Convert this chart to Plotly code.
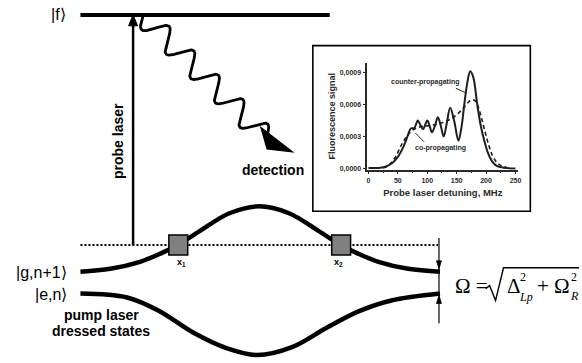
import numpy as np
import plotly.graph_objects as go

W, H = 582, 363

# ---------------- inset data (MHz, fluorescence signal) ----------------
counter_x = [0, 20, 30, 40, 50, 60, 67, 72, 78, 84, 89, 93, 100, 104, 108, 113, 118, 123, 128,
             133, 139, 146, 153, 158, 163, 168, 173, 178, 185, 191, 197, 203, 210, 218, 230, 250]
counter_y = [0.05, 0.08, 0.2, 0.5, 1.1, 2.1, 3.1, 3.75, 3.8, 4.5, 4.0, 3.7, 4.5, 4.0, 3.4, 4.0, 4.8, 4.0, 3.0,
             4.2, 5.7, 4.4, 2.6, 3.8, 6.0, 8.0, 9.1, 8.6, 6.0, 4.0, 2.6, 1.5, 0.7, 0.25, 0.08, 0.02]
co_x = [25, 34, 45, 56, 65, 75, 87, 100, 112, 125, 135, 147, 157, 165, 174, 180, 185, 191, 197, 204, 211, 218, 225, 235]
co_y = [0.05, 0.3, 1.0, 2.2, 3.0, 3.6, 3.9, 4.0, 4.1, 4.3, 4.5, 4.9, 5.4, 5.9, 6.4, 6.4, 6.0, 5.0, 3.7, 2.3, 1.2, 0.6, 0.3, 0.1]
x_ticks = [0, 50, 100, 150, 200, 250]
y_ticks = [0, 0.0003, 0.0006, 0.0009]
y_ticktext = ["0,0000", "0,0003", "0,0006", "0,0009"]

# ---------------- diagram geometry (pixel space) ----------------
upper_x = [80, 110, 140, 160, 178, 200, 230, 260, 290, 320, 342, 360, 380, 410, 442]
upper_y = [274, 271, 264, 256, 247, 233, 215, 208, 215, 233, 247, 256, 264, 271, 274]
lower_x = [80, 127, 160, 193, 227, 258, 293, 327, 360, 393, 442]
lower_y = [296, 300, 314, 335, 351, 358, 350, 331, 314, 303, 296]

fig = go.Figure()

# dressed-state curves
fig.add_trace(go.Scatter(x=upper_x, y=upper_y, mode="lines", line=dict(color="black", width=4.5, shape="spline"),
                         xaxis="x", yaxis="y", hoverinfo="skip"))
fig.add_trace(go.Scatter(x=lower_x, y=lower_y, mode="lines", line=dict(color="black", width=4.5, shape="spline"),
                         xaxis="x", yaxis="y", hoverinfo="skip"))

# wavy fluorescence line (decorative glyph)
sx, sy, ex, ey = 143, 16, 267, 139
t = np.linspace(0, 1, 600)
L = np.hypot(ex - sx, ey - sy)
px, py = -(ey - sy) / L, (ex - sx) / L
amp = 11 * np.sin(2 * np.pi * 5 * t)
wx = sx + t * (ex - sx) + amp * px
wy = sy + t * (ey - sy) + amp * py
fig.add_trace(go.Scatter(x=wx, y=wy, mode="lines", line=dict(color="black", width=2.8),
                         xaxis="x", yaxis="y", hoverinfo="skip"))

# inset curves
fig.add_trace(go.Scatter(x=counter_x, y=[v * 1e-4 for v in counter_y], mode="lines",
                         line=dict(color="#1e1e1e", width=2, shape="spline"), xaxis="x2", yaxis="y2", hoverinfo="skip"))
fig.add_trace(go.Scatter(x=co_x, y=[v * 1e-4 for v in co_y], mode="lines",
                         line=dict(color="#1e1e1e", width=1.6, dash="4px,3px", shape="spline"), xaxis="x2", yaxis="y2", hoverinfo="skip"))

shapes = []
# inset frame
shapes.append(dict(type="rect", xref="x", yref="y", x0=314, y0=46, x1=533, y1=213,
                   line=dict(color="black", width=1.6), fillcolor="white", layer="below"))
# |f> level
shapes.append(dict(type="line", xref="x", yref="y", x0=80, y0=15, x1=331, y1=15, line=dict(color="black", width=4)))
# probe laser arrow
shapes.append(dict(type="line", xref="x", yref="y", x0=133, y0=247, x1=133, y1=22, line=dict(color="black", width=2.5)))
shapes.append(dict(type="path", xref="x", yref="y", path="M 128.5 26 L 133 15 L 137.5 26 Z",
                   fillcolor="black", line=dict(color="black", width=1)))
# detection arrowhead
shapes.append(dict(type="path", xref="x", yref="y", path="M 262 129 L 293 153 L 268 150 Z",
                   fillcolor="black", line=dict(color="black", width=1.5)))
# dotted virtual level
shapes.append(dict(type="line", xref="x", yref="y", x0=80, y0=247, x1=440, y1=247,
                   line=dict(color="black", width=2, dash="2px,2px")))
# crossing boxes
for cx in (178.5, 342.5):
    shapes.append(dict(type="rect", xref="x", yref="y", x0=cx - 9.5, y0=237, x1=cx + 9.5, y1=257,
                       fillcolor="#808080", line=dict(color="black", width=1.5), layer="above"))
# splitting marker
shapes.append(dict(type="line", xref="x", yref="y", x0=441, y0=240, x1=441, y1=326, line=dict(color="black", width=1.2)))
shapes.append(dict(type="path", xref="x", yref="y", path="M 438.5 263 L 441 271 L 443.5 263 Z",
                   fillcolor="black", line=dict(color="black", width=0.8)))
shapes.append(dict(type="path", xref="x", yref="y", path="M 438.5 306 L 441 298 L 443.5 306 Z",
                   fillcolor="black", line=dict(color="black", width=0.8)))
# radical sign of the formula
shapes.append(dict(type="path", xref="x", yref="y", path="M 488 291 L 492 288 L 498 303 L 506 270 L 583 270",
                   line=dict(color="black", width=1.4)))
# inset pointer lines
shapes.append(dict(type="line", xref="x", yref="y", x0=458, y0=89, x1=469, y1=94,
                   line=dict(color="#2a2a2a", width=1), layer="above"))
shapes.append(dict(type="line", xref="x", yref="y", x0=426, y0=143, x1=417, y1=134,
                   line=dict(color="#2a2a2a", width=1), layer="above"))
fig.update_layout(shapes=shapes)

SANS = "Liberation Sans, Arial, sans-serif"
SERIF = "Liberation Serif, Times New Roman, serif"
ann = []
def txt(x, y, s, size, bold=False, xanchor="center", angle=0, family=SANS, color="black", italic=False):
    ann.append(dict(x=x, y=y, xref="x", yref="y", text=s, showarrow=False, xanchor=xanchor, yanchor="middle",
                    textangle=angle, font=dict(family=family, size=size, color=color,
                                               weight="bold" if bold else "normal",
                                               style="italic" if italic else "normal")))

txt(67, 15, "|f\u27e9", 16, xanchor="right")
txt(68, 275, "|g,n+1\u27e9", 16, xanchor="right")
txt(68, 297, "|e,n\u27e9", 16, xanchor="right")
txt(101, 318, "pump laser", 14, bold=True)
txt(101, 334, "dressed states", 14, bold=True)
txt(118, 142, "probe laser", 14, bold=True, angle=-90)
txt(274, 171, "detection", 14, bold=True)
txt(182, 265, "x<sub>1</sub>", 9, bold=True)
txt(340, 265, "x<sub>2</sub>", 9, bold=True)
# formula
txt(455, 288, "\u03a9 =", 21, xanchor="left", family=SERIF)
txt(507, 288, "\u0394", 21, xanchor="left", family=SERIF)
txt(521, 279, "2", 12, xanchor="left", family=SERIF)
txt(520, 299, "Lp", 12, xanchor="left", family=SERIF, italic=True)
txt(538, 288, "+ \u03a9", 21, xanchor="left", family=SERIF)
txt(572, 279, "2", 12, xanchor="left", family=SERIF)
txt(571, 298, "R", 12, xanchor="left", family=SERIF, italic=True)
# inset labels
txt(427, 83, "counter-propagating", 7, bold=True, color="#2a2a2a")
txt(443, 149, "co-propagating", 7, bold=True, color="#2a2a2a")
fig.update_layout(annotations=ann)

# inset axes placement
x0px, x1px = 368.8, 521.0
ylo, yhi = -0.00001, 0.00099
ppx = (170 - 73) / 0.0009
y_bot = 170 - (ylo) * ppx
y_top = 170 - yhi * ppx

tickfont = dict(family=SANS, size=7, color="#2a2a2a", weight="bold")
fig.update_layout(
    width=W, height=H, margin=dict(l=0, r=0, t=0, b=0),
    paper_bgcolor="white", plot_bgcolor="rgba(0,0,0,0)", showlegend=False,
    xaxis=dict(range=[0, W], domain=[0, 1], visible=False, fixedrange=True),
    yaxis=dict(range=[H, 0], domain=[0, 1], visible=False, fixedrange=True),
    xaxis2=dict(domain=[x0px / W, x1px / W], range=[-2, 255], anchor="y2", showline=True, linecolor="#2a2a2a",
                linewidth=1.5, ticks="outside", ticklen=3, tickcolor="#2a2a2a", tickwidth=1,
                tickvals=x_ticks, tickfont=tickfont, showgrid=False, zeroline=False,
                minor=dict(dtick=25, tick0=0, ticks="outside", ticklen=2, tickcolor="#2a2a2a"),
                title=dict(text="Probe laser detuning, MHz", standoff=7,
                           font=dict(family=SANS, size=9.5, color="#2a2a2a", weight="bold"))),
    yaxis2=dict(domain=[1 - y_bot / H, 1 - y_top / H], range=[ylo, yhi], anchor="x2", showline=True,
                linecolor="#2a2a2a", linewidth=1.5, ticks="outside", ticklen=3, tickcolor="#2a2a2a",
                tickvals=y_ticks, ticktext=y_ticktext, tickfont=tickfont, showgrid=False, zeroline=False,
                title=dict(text="Fluorescence signal", standoff=3,
                           font=dict(family=SANS, size=9, color="#2a2a2a", weight="bold"))),
)

fig.write_html("out.html")
